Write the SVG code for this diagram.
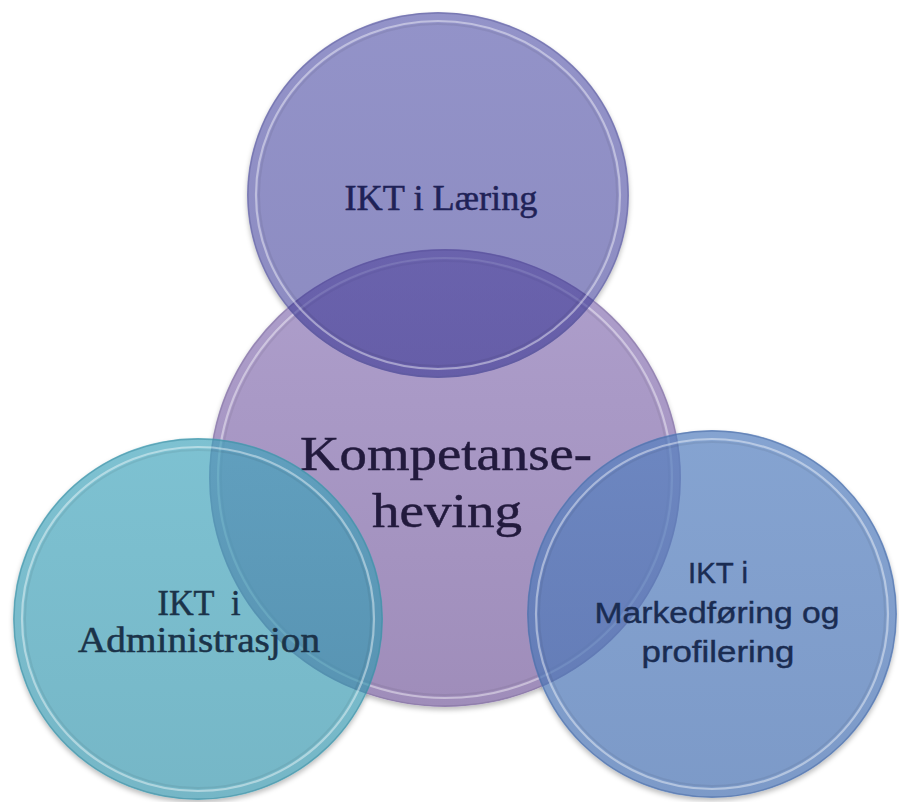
<svg xmlns="http://www.w3.org/2000/svg" width="899" height="802" viewBox="0 0 899 802">
  <defs>
    <style>
      .serif { font-family: "Liberation Serif", "DejaVu Serif", serif; text-anchor: middle; stroke-width: 0.5; }
      .sans { font-family: "Liberation Sans", Arial, sans-serif; text-anchor: middle; stroke-width: 0.4; }
      .edge { fill: none; stroke-width: 1.3; }
      .hi { fill: none; stroke: #ffffff; stroke-opacity: 0.42; stroke-width: 2.2; }
      .lo { fill: none; stroke: #000000; stroke-opacity: 0.06; stroke-width: 2; }
    </style>
    <linearGradient id="gCenter" x1="0" y1="0" x2="0" y2="1">
      <stop offset="0" stop-color="#ae9fcc"/>
      <stop offset="1" stop-color="#9f8dba"/>
    </linearGradient>
    <linearGradient id="gTop" x1="0" y1="0" x2="0" y2="1">
      <stop offset="0" stop-color="#3a3a9c"/>
      <stop offset="1" stop-color="#2e2c8e"/>
    </linearGradient>
    <linearGradient id="gLeft" x1="0" y1="0" x2="0" y2="1">
      <stop offset="0" stop-color="#3ea3bb"/>
      <stop offset="1" stop-color="#3293ab"/>
    </linearGradient>
    <linearGradient id="gRight" x1="0" y1="0" x2="0" y2="1">
      <stop offset="0" stop-color="#5680bf"/>
      <stop offset="1" stop-color="#4a73b3"/>
    </linearGradient>
    <filter id="blur" x="-10%" y="-10%" width="120%" height="120%">
      <feGaussianBlur stdDeviation="2.5"/>
    </filter>
    <mask id="shadowMask" maskUnits="userSpaceOnUse" x="0" y="0" width="899" height="802">
      <rect x="0" y="0" width="899" height="802" fill="#fff"/>
      <ellipse cx="445" cy="478" rx="236" ry="229" fill="#000"/>
      <ellipse cx="438" cy="195" rx="191" ry="183" fill="#000"/>
      <ellipse cx="198" cy="619" rx="185" ry="181" fill="#000"/>
      <ellipse cx="712" cy="614" rx="185" ry="184" fill="#000"/>
    </mask>
  </defs>

  <rect x="0" y="0" width="899" height="802" fill="#ffffff"/>

  <g id="shadows" mask="url(#shadowMask)" fill="#000" fill-opacity="0.25" filter="url(#blur)">
    <ellipse cx="445" cy="481" rx="236" ry="229"/>
    <ellipse cx="438" cy="198" rx="191" ry="183"/>
    <ellipse cx="198" cy="622" rx="185" ry="181"/>
    <ellipse cx="712" cy="617" rx="185" ry="184"/>
  </g>

  <g id="connectors"></g>

  <g id="node-center">
    <ellipse cx="445" cy="478" rx="236" ry="229" fill="url(#gCenter)"/>
    <ellipse class="edge" cx="445" cy="478" rx="235" ry="228" stroke="#7d6c9a" stroke-opacity="0.45"/>
    <ellipse class="hi" cx="445" cy="478" rx="227" ry="220"/>
    <ellipse class="lo" cx="445" cy="478" rx="224" ry="217"/>
    <text class="serif" x="446" y="470" font-size="48" fill="#221a3d" stroke="#221a3d" textLength="292" lengthAdjust="spacingAndGlyphs">Kompetanse-</text>
    <text class="serif" x="447" y="527" font-size="48" fill="#221a3d" stroke="#221a3d" textLength="150" lengthAdjust="spacingAndGlyphs">heving</text>
  </g>

  <g id="node-top">
    <ellipse cx="438" cy="195" rx="191" ry="183" fill="url(#gTop)" fill-opacity="0.55"/>
    <ellipse class="edge" cx="438" cy="195" rx="190" ry="182" stroke="#5a5a9a" stroke-opacity="0.45"/>
    <ellipse class="hi" cx="438" cy="195" rx="182" ry="174"/>
    <ellipse class="lo" cx="438" cy="195" rx="179" ry="171"/>
    <text class="serif" x="441" y="210" font-size="35" fill="#1f2257" stroke="#1f2257" textLength="193" lengthAdjust="spacingAndGlyphs">IKT i Læring</text>
  </g>

  <g id="node-left">
    <ellipse cx="198" cy="619" rx="185" ry="181" fill="url(#gLeft)" fill-opacity="0.67"/>
    <ellipse class="edge" cx="198" cy="619" rx="184" ry="180" stroke="#3f8ea2" stroke-opacity="0.55"/>
    <ellipse class="hi" cx="198" cy="619" rx="176" ry="172"/>
    <ellipse class="lo" cx="198" cy="619" rx="173" ry="169"/>
    <text class="serif" x="199" y="615" font-size="35" fill="#1b3349" stroke="#1b3349" textLength="83" lengthAdjust="spacingAndGlyphs">IKT &#160;i</text>
    <text class="serif" x="199" y="652" font-size="35" fill="#1b3349" stroke="#1b3349" textLength="242" lengthAdjust="spacingAndGlyphs">Administrasjon</text>
  </g>

  <g id="node-right">
    <ellipse cx="712" cy="614" rx="185" ry="184" fill="url(#gRight)" fill-opacity="0.72"/>
    <ellipse class="edge" cx="712" cy="614" rx="184" ry="183" stroke="#4d6ea6" stroke-opacity="0.55"/>
    <ellipse class="hi" cx="712" cy="614" rx="176" ry="175"/>
    <ellipse class="lo" cx="712" cy="614" rx="173" ry="172"/>
    <text class="sans" x="718" y="583" font-size="29" fill="#1a2c52" stroke="#1a2c52" textLength="60" lengthAdjust="spacingAndGlyphs">IKT i</text>
    <text class="sans" x="717" y="623" font-size="29" fill="#1a2c52" stroke="#1a2c52" textLength="245" lengthAdjust="spacingAndGlyphs">Markedføring og</text>
    <text class="sans" x="718" y="662" font-size="29" fill="#1a2c52" stroke="#1a2c52" textLength="153" lengthAdjust="spacingAndGlyphs">profilering</text>
  </g>
</svg>
